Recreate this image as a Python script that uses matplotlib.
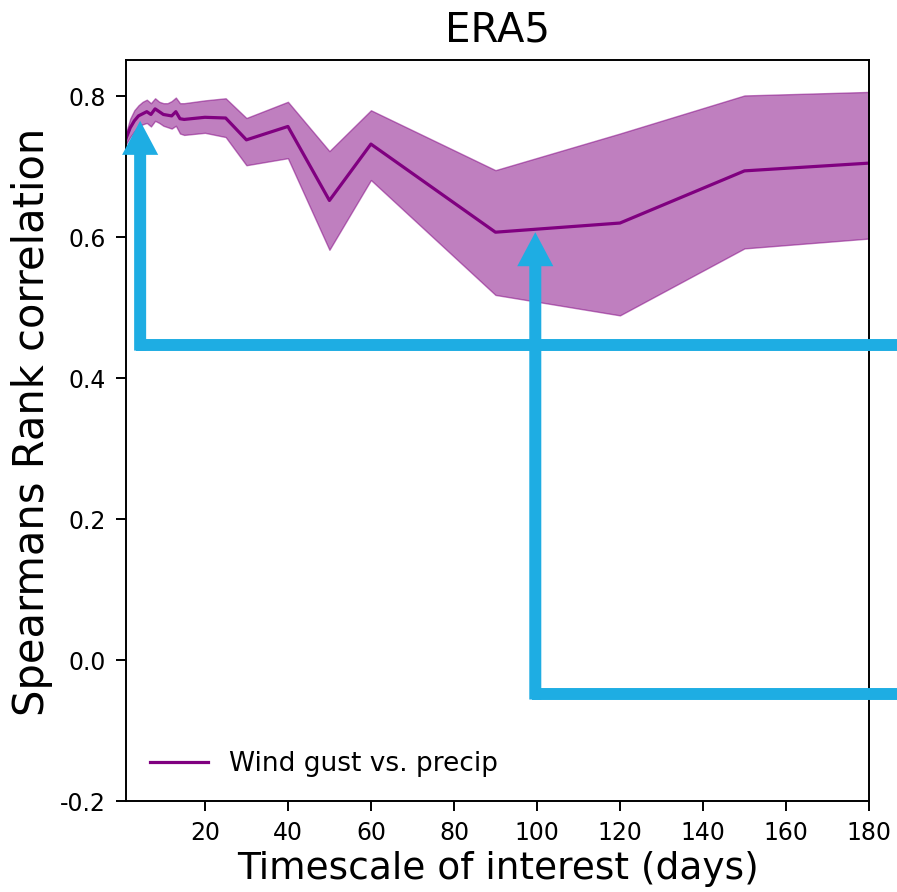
"""ERA5 Spearman rank correlation vs timescale, with highlight arrows."""

import matplotlib

matplotlib.use("Agg")
import matplotlib.pyplot as plt

plt.rcParams["axes.unicode_minus"] = False

# timescale (days) and correlation with its uncertainty band
days = [1, 2, 3, 4, 5, 6, 7, 8, 9, 10, 11, 12, 13, 14, 15,
        20, 25, 30, 40, 50, 60, 90, 120, 150, 180]
corr = [0.740, 0.755, 0.765, 0.772, 0.775, 0.778, 0.774, 0.782, 0.778, 0.774,
        0.773, 0.772, 0.778, 0.768, 0.767,
        0.770, 0.769, 0.738, 0.757, 0.652, 0.732, 0.607, 0.620, 0.694, 0.705]
upper = [0.748, 0.768, 0.780, 0.787, 0.792, 0.795, 0.790, 0.797, 0.792, 0.790,
         0.790, 0.793, 0.798, 0.790, 0.790,
         0.794, 0.797, 0.769, 0.792, 0.722, 0.780, 0.695, 0.747, 0.801, 0.806]
lower = [0.732, 0.742, 0.750, 0.757, 0.760, 0.762, 0.757, 0.765, 0.762, 0.758,
         0.756, 0.754, 0.758, 0.747, 0.745,
         0.748, 0.742, 0.702, 0.712, 0.582, 0.681, 0.518, 0.489, 0.584, 0.598]

# highlight arrows: (x of shaft, y of horizontal leg, y of tip)
arrows = [(4.4, 0.447, 0.765), (99.6, -0.048, 0.607)]
ARROW_COLOR = "#1EADE3"

fig = plt.figure(figsize=(8.97, 8.92), dpi=100)
ax = fig.add_axes([0.1405, 0.102, 0.8283, 0.8305])

ax.fill_between(days, lower, upper, color="purple", alpha=0.5)
ax.plot(days, corr, color="purple", lw=2.3, label="Wind gust vs. precip")

ax.set_xlim(1, 180)
ax.set_ylim(-0.2, 0.851)
ax.set_xticks([20, 40, 60, 80, 100, 120, 140, 160, 180])
ax.set_yticks([-0.2, 0.0, 0.2, 0.4, 0.6, 0.8])

ax.set_title("ERA5", fontsize=29, pad=13.5)
ax.set_xlabel("Timescale of interest (days)", fontsize=27)
ax.set_ylabel("Spearmans Rank correlation", fontsize=30)
ax.yaxis.set_label_coords(-0.098, 0.512)
ax.tick_params(labelsize=17, length=7.5, width=1.4, pad=7)
for sp in ax.spines.values():
    sp.set_linewidth(1.4)

ax.legend(loc="lower left", frameon=False, fontsize=19, handlelength=2.2)

# blue call-out arrows running in from the right edge of the figure
for x, y_leg, y_tip in arrows:
    ax.plot([190, x - 0.9], [y_leg, y_leg], color=ARROW_COLOR, lw=8.6,
            solid_capstyle="butt", clip_on=False, zorder=5)
    ax.annotate(
        "", xy=(x, y_tip), xytext=(x, y_leg - 0.008),
        arrowprops=dict(
            arrowstyle="simple,head_length=2.45,head_width=2.6,tail_width=0.864",
            mutation_scale=10, color=ARROW_COLOR, lw=0,
            shrinkA=0, shrinkB=0,
        ),
        annotation_clip=False, zorder=5,
    )

fig.savefig("out.png", dpi=100)
